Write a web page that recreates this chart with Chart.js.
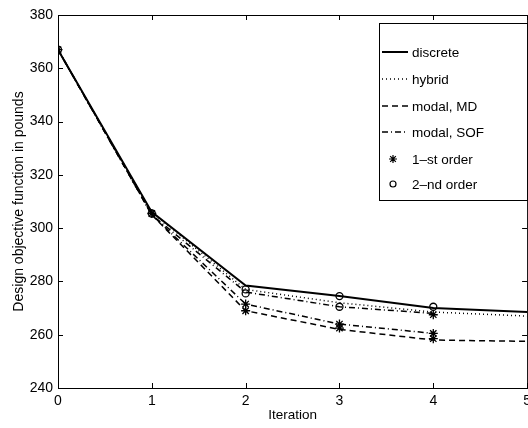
<!DOCTYPE html>
<html>
<head>
<meta charset="utf-8">
<script src="https://cdn.jsdelivr.net/npm/chart.js@4"></script>
<style>
  html, body { margin: 0; padding: 0; background: #fff; overflow: hidden; }
  #wrap { width: 536px; height: 428px; }
</style>
</head>
<body>
<div id="wrap"><canvas id="chart"></canvas></div>
<script>
// DATA
const iterations = [0, 1, 2, 3, 4, 5];
const yTicks = [240, 260, 280, 300, 320, 340, 360, 380];

const discrete = [367, 306, 278.5, 274.5, 270, 268.5];
const hybrid = [367, 306, 277, 272, 268.5, 267];
const modalMD = [367, 305, 269, 262, 258, 257.5];
const modalSOF = [367, 305, 276, 270.5, 268, null];
const modalSOF1 = [367, 305, 271.5, 264, 260.5, null];

// approximation markers
const firstOrderX = [0, 1, 2, 2, 3, 3, 4, 4, 4];
const firstOrderY = [367, 305.5, 271.5, 269, 264, 262.5, 267.5, 260.5, 258.5];
const secondOrderX = [0, 1, 2, 2, 3, 3, 4];
const secondOrderY = [367, 305.5, 277, 275.5, 274.5, 270.5, 270.5];

const legendNames = ['discrete', 'hybrid', 'modal, MD', 'modal, SOF', '1\u2013st order', '2\u2013nd order'];

function pts(xs, ys) {
    return xs.map((x, i) => ({ x: x, y: ys[i] })).filter(p => p.y !== null);
}

const FONT = '"Liberation Sans", Arial, sans-serif';

// FRAME, INWARD TICKS AND LEGEND
const framePlugin = {
    id: 'frame',
    afterDraw(chart) {
        const ctx = chart.ctx;
        const a = chart.chartArea;
        const xs = chart.scales.x, ys = chart.scales.y;
        ctx.save();
        ctx.strokeStyle = '#000';
        ctx.lineWidth = 1;
        ctx.strokeRect(a.left + 0.5, a.top + 0.5, a.right - a.left, a.bottom - a.top);
        ctx.beginPath();
        iterations.forEach(v => {
            const px = Math.round(xs.getPixelForValue(v)) + 0.5;
            ctx.moveTo(px, a.bottom); ctx.lineTo(px, a.bottom - 5);
            ctx.moveTo(px, a.top); ctx.lineTo(px, a.top + 5);
        });
        yTicks.forEach(v => {
            const py = Math.round(ys.getPixelForValue(v)) + 0.5;
            ctx.moveTo(a.left, py); ctx.lineTo(a.left + 5, py);
            ctx.moveTo(a.right, py); ctx.lineTo(a.right - 5, py);
        });
        ctx.stroke();

        // legend box
        const bx = 379, by = 23, bw = a.right - 379, bh = 177;
        ctx.fillStyle = '#fff';
        ctx.fillRect(bx, by, bw, bh);
        ctx.strokeRect(bx + 0.5, by + 0.5, bw, bh);
        const rows = [52, 79, 106, 132, 159, 184];
        const dashes = [[], [1, 3], [6, 4], [6, 3, 1, 3]];
        ctx.font = '13.5px ' + FONT;
        ctx.textBaseline = 'middle';
        rows.forEach((ry, i) => {
            if (i < 4) {
                ctx.beginPath();
                ctx.setLineDash(dashes[i]);
                ctx.lineWidth = i === 0 ? 2 : 1.5;
                ctx.moveTo(382, ry); ctx.lineTo(408, ry);
                ctx.stroke();
                ctx.setLineDash([]);
            } else {
                ctx.lineWidth = 1.2;
                ctx.fillStyle = i === 4 ? '#000' : '#fff';
                Chart.helpers.drawPoint(ctx, {
                    pointStyle: i === 4 ? 'star' : 'circle',
                    radius: i === 4 ? 4 : 3,
                    rotation: 0,
                    borderWidth: 1.2
                }, 393, ry);
            }
            ctx.fillStyle = '#000';
            ctx.fillText(legendNames[i], 412, ry + 1);
        });
        ctx.restore();
    }
};

function lineSet(label, data, dash, width) {
    return {
        type: 'line',
        label: label,
        data: pts(iterations, data),
        borderColor: '#000',
        borderWidth: width,
        borderDash: dash,
        pointRadius: 0,
        fill: false,
        tension: 0,
        order: 2
    };
}

new Chart(document.getElementById('chart'), {
    type: 'scatter',
    data: {
        datasets: [
            {
                label: legendNames[4],
                data: pts(firstOrderX, firstOrderY),
                pointStyle: 'star',
                pointRadius: 4.5,
                borderColor: '#000',
                borderWidth: 1.3,
                showLine: false,
                order: 0
            },
            {
                label: legendNames[5],
                data: pts(secondOrderX, secondOrderY),
                pointStyle: 'circle',
                pointRadius: 3.5,
                backgroundColor: 'rgba(255,255,255,0)',
                borderColor: '#000',
                borderWidth: 1.3,
                showLine: false,
                order: 0
            },
            lineSet(legendNames[0], discrete, [], 2),
            lineSet(legendNames[1], hybrid, [1, 3], 1.5),
            lineSet(legendNames[2], modalMD, [6, 4], 1.5),
            lineSet(legendNames[3], modalSOF, [6, 3, 1, 3], 1.5),
            lineSet(legendNames[3], modalSOF1, [6, 3, 1, 3], 1.5)
        ]
    },
    options: {
        responsive: true,
        maintainAspectRatio: false,
        animation: false,
        layout: { padding: { top: 15, right: 0, left: 0, bottom: 0 } },
        plugins: {
            legend: { display: false },
            tooltip: { enabled: false }
        },
        scales: {
            x: {
                type: 'linear',
                min: 0,
                max: 5,
                afterFit: s => { s.height = 40; },
                afterBuildTicks: s => { s.ticks = iterations.map(v => ({ value: v })); },
                grid: { display: false, drawTicks: false },
                border: { display: false },
                ticks: { color: '#000', padding: 5, font: { family: FONT, size: 14 } },
                title: {
                    display: true,
                    text: 'Iteration',
                    color: '#000',
                    padding: { top: 0, bottom: 5 },
                    font: { family: FONT, size: 13.5 }
                }
            },
            y: {
                min: 240,
                max: 380,
                afterFit: s => { s.width = 58; },
                afterBuildTicks: s => { s.ticks = yTicks.map(v => ({ value: v })); },
                grid: { display: false, drawTicks: false },
                border: { display: false },
                ticks: { color: '#000', padding: 5, font: { family: FONT, size: 14 } },
                title: {
                    display: true,
                    text: 'Design objective function in pounds',
                    color: '#000',
                    padding: { top: 11, bottom: 0 },
                    font: { family: FONT, size: 14 }
                }
            }
        }
    },
    plugins: [framePlugin]
});
</script>
</body>
</html>
